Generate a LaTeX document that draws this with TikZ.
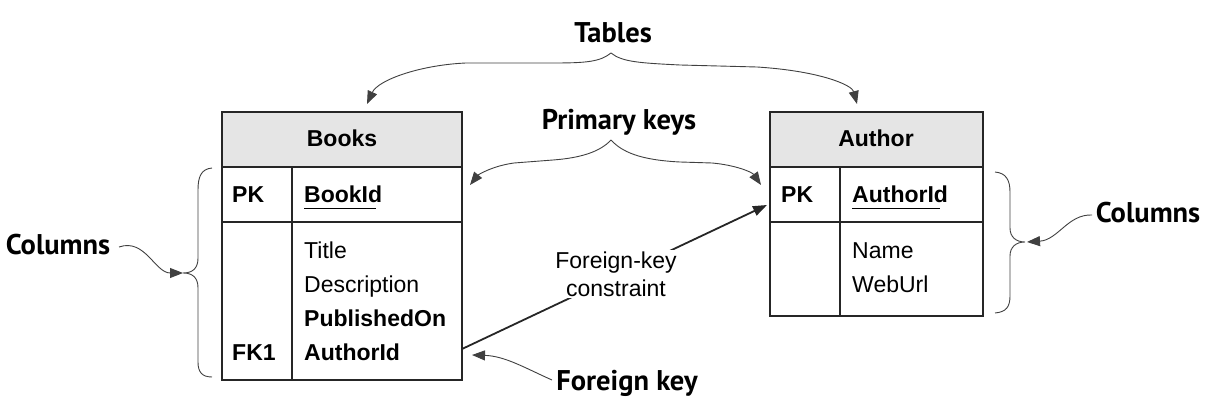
\documentclass[tikz,border=0pt]{standalone}
\usepackage{fontspec}
\setmainfont{Liberation Sans}
\newfontfamily\labfont{PT Sans}
\usetikzlibrary{arrows.meta}
\begin{document}
\begin{tikzpicture}[x=1pt,y=-1pt,
  tbl/.style={line width=2.2pt, draw=black!85},
  hdr/.style={fill=black!10},
  cell/.style={inner sep=0pt, anchor=base west, font=\fontsize{23}{28}\selectfont},
  bcell/.style={cell, font=\fontsize{23}{28}\selectfont\bfseries},
  lbl/.style={inner sep=0pt, anchor=base, font=\labfont\fontsize{28.5}{32}\selectfont\bfseries},
  thin/.style={line width=0.9pt, draw=black!75},
  arr/.style={thin, -{Triangle[length=13pt,width=10pt]}},
  fk/.style={line width=1.8pt, draw=black!85, -{Triangle[length=14pt,width=10pt]}},
]
\useasboundingbox (0,0) rectangle (1215,411);
% Books table
\draw[tbl,hdr] (222,112) rectangle (462,167);
\draw[tbl] (222,167) rectangle (462,380);
\draw[tbl] (222,222) -- (462,222);
\draw[tbl] (292,167) -- (292,380);
\node[bcell, anchor=base] (bname) at (342,147) {Books};
\node[bcell] (bpk) at (232,203) {PK};
\node[bcell] (bid) at (304,203) {BookId};
\draw[line width=0.8pt] ([yshift=-5pt]bid.base west) -- ++(72,0);
\node[cell] (btitle) at (304,259) {Title};
\node[cell] (bdesc) at (304,293) {Description};
\node[bcell] (bpub) at (304,327) {PublishedOn};
\node[bcell] (bfk) at (232,360) {FK1};
\node[bcell] (bauth) at (304,360) {AuthorId};
% Author table
\draw[tbl,hdr] (770,112) rectangle (983,167);
\draw[tbl] (770,167) rectangle (983,316);
\draw[tbl] (770,222) -- (983,222);
\draw[tbl] (840,167) -- (840,316);
\node[bcell, anchor=base] (aname) at (876,147) {Author};
\node[bcell] (apk) at (781,203) {PK};
\node[bcell] (aid) at (852,203) {AuthorId};
\draw[line width=0.8pt] ([yshift=-5pt]aid.base west) -- ++(88,0);
\node[cell] (aname2) at (852,259) {Name};
\node[cell] (aurl) at (852,293) {WebUrl};
% Labels
\node[lbl] (tables) at (613,43) {Tables};
\node[lbl] (pkeys) at (619,130) {Primary keys};
\node[lbl] (fkey) at (627,390) {Foreign key};
\node[lbl] (colL) at (58,255) {Columns};
\node[lbl] (colR) at (1148,223) {Columns};
% coordinates
\coordinate (tb) at (611,53);
\coordinate (tbL) at (367,104);
\coordinate (tbR) at (857,104);
\coordinate (pkb) at (611,140);
\coordinate (pkL) at (470,185);
\coordinate (pkR) at (761,185);
\coordinate (fkS) at (462,349);
\coordinate (fkE) at (767,205);
\coordinate (fkT) at (472,355);
\coordinate (fkF) at (552,380);
\coordinate (cLs) at (119,247);
\coordinate (cLt) at (183,273);
\coordinate (cRs) at (1092,215);
\coordinate (cRt) at (1027,242);
% Tables brace
\draw[arr] (tb) .. controls (600,62) and (585,63) .. (553,63) -- (466,63) .. controls (420,65) and (378,80) .. (tbL);
\draw[arr] (tb) .. controls (622,62) and (640,63) .. (680,65) -- (757,67) .. controls (820,71) and (852,85) .. (tbR);
% Primary keys brace
\draw[arr] (pkb) .. controls (600,152) and (580,158) .. (553,160) -- (514,163) .. controls (492,166) and (478,175) .. (pkL);
\draw[arr] (pkb) .. controls (622,152) and (640,160) .. (680,162) -- (712,163) .. controls (735,165) and (752,172) .. (pkR);
% Foreign key constraint
\draw[fk] (fkS) -- (fkE);
\node[inner sep=2pt, fill=white, align=center, font=\fontsize{23}{28}\selectfont] (fkc) at (616,274) {Foreign-key\\constraint};
% Foreign key arrow
\draw[arr] (fkF) .. controls (525,368) and (505,356) .. (fkT);
% Left columns brace
\draw[thin] (212,168) .. controls (201,169) and (198,177) .. (198,190) -- (198,258) .. controls (198,268) and (193,273) .. (cLt) .. controls (193,273) and (198,278) .. (198,288) -- (198,362) .. controls (198,372) and (202,377) .. (212,377);
\draw[arr] (cLs) .. controls (145,238) and (155,273) .. (cLt);
% Right columns brace
\draw[thin] (995,172) .. controls (1006,173) and (1010,180) .. (1010,192) -- (1010,228) .. controls (1010,237) and (1016,242) .. (1025,242) .. controls (1016,242) and (1010,247) .. (1010,256) -- (1010,296) .. controls (1010,307) and (1006,312) .. (995,313);
\draw[arr] (cRs) .. controls (1068,214) and (1058,240) .. (cRt);
\end{tikzpicture}
\end{document}
